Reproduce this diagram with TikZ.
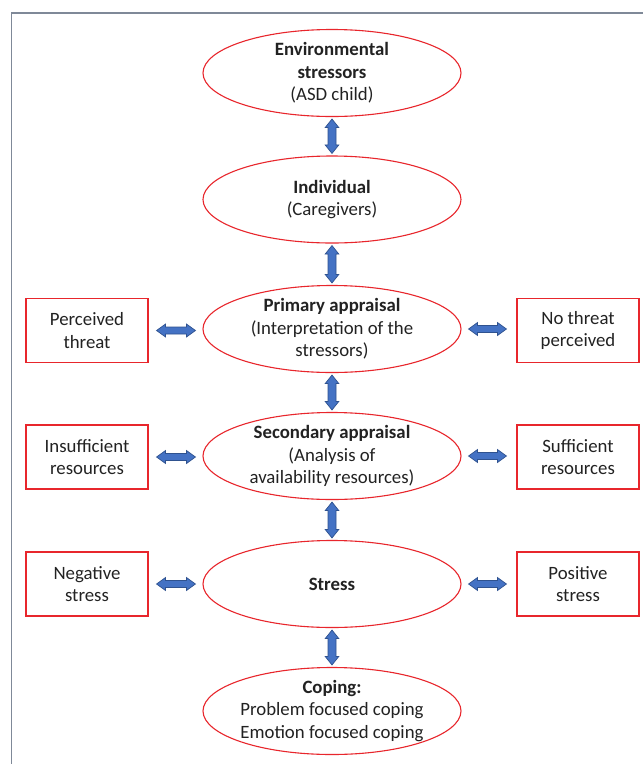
\documentclass[tikz,border=0pt]{standalone}
\usepackage{fontspec}
\setmainfont{Carlito}
\usetikzlibrary{shapes.geometric,calc}
\definecolor{redline}{RGB}{232,38,44}
\definecolor{textc}{RGB}{34,34,34}
\definecolor{arrfill}{RGB}{68,114,196}
\definecolor{arrline}{RGB}{47,82,143}
\definecolor{framec}{RGB}{127,137,152}
\tikzset{
  ell/.style={draw=redline, line width=1.1pt, ellipse, minimum width=258pt, minimum height=87pt, inner sep=0pt},
  txt/.style={text=textc, align=center, font=\fontsize{18.8}{22.5}\selectfont, inner sep=0pt},
  sidebox/.style={draw=redline, line width=1.1pt, rectangle, minimum width=122pt, minimum height=64pt, inner sep=0pt, text=textc, align=center, font=\fontsize{18.8}{22.5}\selectfont},
  darr/.style={fill=arrfill, draw=arrline, line width=0.7pt, line join=miter}
}
\newcommand\vdarrow[2]{%
  \draw[darr] let \p1=(#1), \p2=(#2) in
    (\x1,\y1) -- (\x1+6.8pt,\y1-8.5pt) -- (\x1+4pt,\y1-8.5pt) -- (\x1+4pt,\y2+8.5pt)
    -- (\x1+6.8pt,\y2+8.5pt) -- (\x1,\y2) -- (\x1-6.8pt,\y2+8.5pt) -- (\x1-4pt,\y2+8.5pt)
    -- (\x1-4pt,\y1-8.5pt) -- (\x1-6.8pt,\y1-8.5pt) -- cycle;}
\newcommand\hdarrow[2]{%
  \draw[darr] let \p1=(#1), \p2=(#2) in
    (\x1,\y1) -- (\x1+9pt,\y1+6.5pt) -- (\x1+9pt,\y1+3.5pt) -- (\x2-9pt,\y1+3.5pt)
    -- (\x2-9pt,\y1+6.5pt) -- (\x2,\y1) -- (\x2-9pt,\y1-6.5pt) -- (\x2-9pt,\y1-3.5pt)
    -- (\x1+9pt,\y1-3.5pt) -- (\x1+9pt,\y1-6.5pt) -- cycle;}
\begin{document}
\begin{tikzpicture}[x=1pt,y=-1pt]
\useasboundingbox (0,0) rectangle (643,764);
\fill[white] (0,0) rectangle (643,764);
% frame
\draw[framec, line width=1.8pt] (11.5,764) -- (11.5,13) -- (643,13);
% ellipses
\node[ell, label={[txt]center:{\textbf{Environmental}\\\textbf{stressors}\\(ASD child)}}] (e1) at (332,73) {};
\node[ell, label={[txt]center:{\textbf{Individual}\\(Caregivers)}}] (e2) at (332,199.5) {};
\node[ell, label={[txt]center:{\textbf{Primary appraisal}\\(Interpretation of the\\stressors)}}] (e3) at (332,329) {};
\node[ell, label={[txt]center:{\textbf{Secondary appraisal}\\(Analysis of\\availability resources)}}] (e4) at (332,456) {};
\node[ell, label={[txt]center:{\textbf{Stress}}}] (e5) at (332,584) {};
\node[ell, label={[txt]center:{\textbf{Coping:}\\Problem focused coping\\Emotion focused coping}}] (e6) at (332,711) {};
% side boxes
\node[sidebox] (l1) at (87,330.5) {Perceived\\threat};
\node[sidebox] (l2) at (87,457) {Insufficient\\resources};
\node[sidebox] (l3) at (87,584) {Negative\\stress};
\node[sidebox] (r1) at (578,330.5) {No threat\\perceived};
\node[sidebox] (r2) at (578,457) {Sufficient\\resources};
\node[sidebox] (r3) at (578,584) {Positive\\stress};
% vertical arrows
\vdarrow{[yshift=-2pt]e1.south}{[yshift=2pt]e2.north}
\vdarrow{[yshift=-2pt]e2.south}{[yshift=2pt]e3.north}
\vdarrow{[yshift=-2pt]e3.south}{[yshift=2pt]e4.north}
\vdarrow{[yshift=-2pt]e4.south}{[yshift=2pt]e5.north}
\vdarrow{[yshift=-2pt]e5.south}{[yshift=2pt]e6.north}
% horizontal arrows
\hdarrow{[xshift=8pt]l1.east}{[xshift=-7pt]e3.west}
\hdarrow{[xshift=8pt]l2.east}{[xshift=-7pt]e4.west}
\hdarrow{[xshift=8pt]l3.east}{[xshift=-7pt]e5.west}
\hdarrow{[xshift=7pt]e3.east}{[xshift=-10pt]r1.west}
\hdarrow{[xshift=7pt]e4.east}{[xshift=-10pt]r2.west}
\hdarrow{[xshift=7pt]e5.east}{[xshift=-10pt]r3.west}
\end{tikzpicture}
\end{document}
